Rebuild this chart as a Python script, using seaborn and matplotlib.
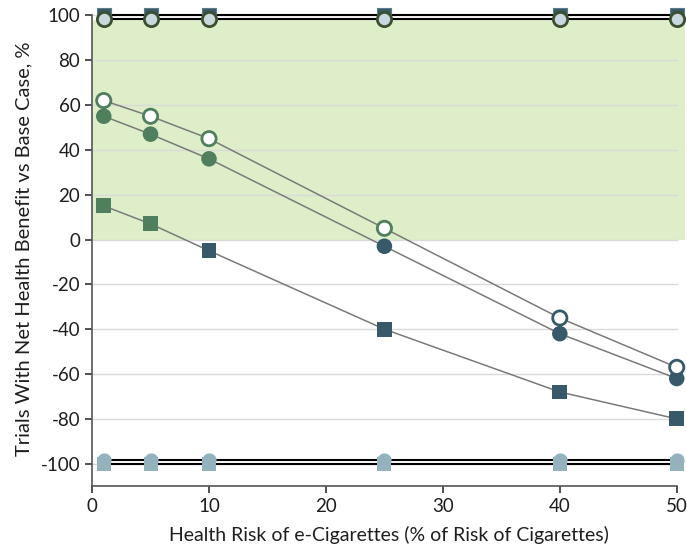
import seaborn as sns
import pandas as pd
import matplotlib.pyplot as plt

# health risk of e-cigarettes (% of cigarette risk)
risk = [1, 5, 10, 25, 40, 50]

# trials with net health benefit vs base case, %
top_sq = [100, 100, 100, 100, 100, 100]
top_circ = [98.5, 98.5, 98.5, 98.5, 98.5, 98.5]
squares = [15, 7, -5, -40, -68, -80]
filled = [55, 47, 36, -3, -42, -62]
hollow = [62, 55, 45, 5, -35, -57]
bot_circ = [-98.5, -98.5, -98.5, -98.5, -98.5, -98.5]
bot_sq = [-100, -100, -100, -100, -100, -100]

yticks = list(range(-100, 101, 20))
xticks = [0, 10, 20, 30, 40, 50]

GREEN = '#4f7f5d'
SLATE = '#37596a'
PALE = '#94b2be'

sns.set_style('ticks')
plt.rcParams['font.family'] = ['Lato', 'DejaVu Sans']
plt.rcParams['axes.unicode_minus'] = False

fig = plt.figure(figsize=(6.87, 5.45), dpi=100)
ax = fig.add_axes([0.134, 0.108, 0.863, 0.870])

# shaded "benefit" zone and grid
ax.fill_between([0, 50.7], 0, 97.8, color='#ddeec9', lw=0, zorder=0)
for y in yticks:
    ax.plot([0, 50], [y, y], color='#dadada', lw=1, zorder=0.5)

# top / bottom reference series (double black lines)
for vals in [top_sq, top_circ, bot_circ, bot_sq]:
    sns.lineplot(x=risk, y=vals, color='black', lw=1.5, ax=ax, zorder=2)

# descending series
for vals in [squares, filled, hollow]:
    sns.lineplot(x=risk, y=vals, color='#7a7a7a', lw=1.1, ax=ax, zorder=2)

def cols(vals):
    return [GREEN if v > 0 else SLATE for v in vals]

sq = 115
ci = 105
ax.scatter(risk, top_sq, marker='s', s=sq, color=SLATE, edgecolor='#5d7b88', lw=0.8, zorder=3, clip_on=False)
ax.scatter(risk, top_circ, marker='o', s=ci, color='#c9d8de', edgecolor='#3b4f2e', lw=2, zorder=4, clip_on=False)
ax.scatter(risk, bot_circ, marker='o', s=ci, color=PALE, lw=0, zorder=3, clip_on=False)
ax.scatter(risk, bot_sq, marker='s', s=sq, color=PALE, lw=0, zorder=3, clip_on=False)
ax.scatter(risk, squares, marker='s', s=sq, color=cols(squares), lw=0, zorder=4, clip_on=False)
ax.scatter(risk, filled, marker='o', s=125, color=cols(filled), lw=0, zorder=4, clip_on=False)
ax.scatter(risk, hollow, marker='o', s=ci, color='white', edgecolor=cols(hollow), lw=2, zorder=4, clip_on=False)

ax.set_xlim(0, 50.7)
ax.set_ylim(-110, 101.5)
ax.set_xticks(xticks)
ax.set_yticks(yticks)
ax.spines['bottom'].set_bounds(0, 50)
ax.spines['left'].set_bounds(-110, 100)
sns.despine(ax=ax)
for s in ['left', 'bottom']:
    ax.spines[s].set_color('#555555')
    ax.spines[s].set_linewidth(1.2)
ax.tick_params(length=5, width=1.2, color='#333333', labelsize=13.5, labelcolor='#1e1e1e')

ax.set_xlabel('Health Risk of e-Cigarettes (% of Risk of Cigarettes)', fontsize=14, color='#1e1e1e', labelpad=8)
ax.set_ylabel('Trials With Net Health Benefit vs Base Case, %', fontsize=14.5, color='#1e1e1e', labelpad=6)

fig.savefig('out.png', dpi=100)
